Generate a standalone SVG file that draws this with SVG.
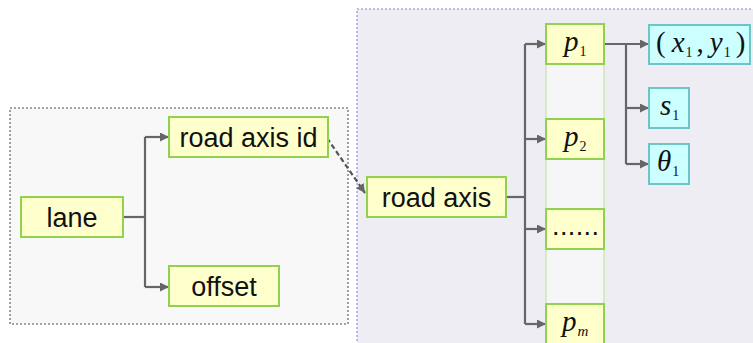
<svg xmlns="http://www.w3.org/2000/svg" width="753" height="343" viewBox="0 0 753 343">
  <defs>
    <marker id="arr" viewBox="0 0 10 10" refX="10" refY="5" markerWidth="9" markerHeight="9" markerUnits="userSpaceOnUse" orient="auto">
      <path d="M0,0 L10,5 L0,10 z" fill="#666"/>
    </marker>
    <style>
      .panelL { fill: #f8f8f8; stroke: #888; stroke-width: 1.6; stroke-dasharray: 2 2; }
      .panelR { fill: #eeedf4; stroke: #a9a9dc; stroke-width: 1.6; stroke-dasharray: 2 2; }
      .col { fill: #f6f6f9; stroke: #c6e4a4; stroke-width: 1.2; }
      .yel { fill: #ffffcc; stroke: #92d050; stroke-width: 2; }
      .cyan { fill: #ccffff; stroke: #6fc5c5; stroke-width: 2; }
      .lbl { font-family: "Liberation Sans", Arial, sans-serif; font-size: 27px; fill: #111; text-anchor: middle; }
      .math { font-family: "Liberation Serif", "Times New Roman", serif; font-size: 29px; fill: #111; font-style: italic; }
      .sub { font-family: "Liberation Serif", "Times New Roman", serif; font-size: 14px; font-style: normal; }
      .subi { font-family: "Liberation Serif", "Times New Roman", serif; font-size: 15px; font-style: italic; }
      .up { font-style: normal; }
      .link { fill: none; stroke: #666; stroke-width: 2.2; }
      .ref { fill: none; stroke: #555; stroke-width: 2.2; stroke-dasharray: 5 3; }
    </style>
  </defs>

  <rect width="753" height="343" fill="#ffffff"/>

  <!-- panels -->
  <rect class="panelL" x="10" y="108" width="338" height="216"/>
  <rect class="panelR" x="357" y="9" width="400" height="340"/>
  <rect class="col" x="546" y="44" width="58" height="290"/>

  <!-- connectors -->
  <g id="connectors">
    <path class="link" d="M123,217 H145"/>
    <path class="link" d="M145,137 V287"/>
    <path class="link" marker-end="url(#arr)" d="M145,137 H169"/>
    <path class="link" marker-end="url(#arr)" d="M145,287 H169"/>

    <path class="ref" marker-end="url(#arr)" d="M327,138 L365,193"/>

    <path class="link" d="M506,197 H525"/>
    <path class="link" d="M525,44 V324"/>
    <path class="link" marker-end="url(#arr)" d="M525,44 H546"/>
    <path class="link" marker-end="url(#arr)" d="M525,139 H546"/>
    <path class="link" marker-end="url(#arr)" d="M525,229 H546"/>
    <path class="link" marker-end="url(#arr)" d="M525,324 H546"/>

    <path class="link" marker-end="url(#arr)" d="M604,44 H649"/>
    <path class="link" d="M626,44 V164"/>
    <path class="link" marker-end="url(#arr)" d="M626,108 H649"/>
    <path class="link" marker-end="url(#arr)" d="M626,164 H649"/>
  </g>

  <!-- nodes -->
  <g id="lane">
    <rect class="yel" x="21" y="197" width="102" height="40"/>
    <text class="lbl" x="72" y="227">lane</text>
  </g>
  <g id="road-axis-id">
    <rect class="yel" x="169" y="117" width="159" height="40"/>
    <text class="lbl" x="248.5" y="147">road axis id</text>
  </g>
  <g id="offset">
    <rect class="yel" x="169" y="266" width="110" height="40"/>
    <text class="lbl" x="224" y="296">offset</text>
  </g>
  <g id="road-axis">
    <rect class="yel" x="367" y="177" width="139" height="40"/>
    <text class="lbl" x="436.5" y="207">road axis</text>
  </g>

  <g id="p1">
    <rect class="yel" x="546" y="24" width="58" height="40"/>
    <text class="math" x="564" y="51">p<tspan class="sub" dx="1" dy="5">1</tspan></text>
  </g>
  <g id="p2">
    <rect class="yel" x="546" y="119" width="58" height="40"/>
    <text class="math" x="564" y="146">p<tspan class="sub" dx="1" dy="5">2</tspan></text>
  </g>
  <g id="pdots">
    <rect class="yel" x="546" y="209" width="58" height="40"/>
    <text class="lbl" x="575.5" y="235" font-size="22" textLength="47" lengthAdjust="spacing">......</text>
  </g>
  <g id="pm">
    <rect class="yel" x="546" y="304" width="58" height="42"/>
    <text class="math" x="562" y="331">p<tspan class="subi" dx="1" dy="5">m</tspan></text>
  </g>

  <g id="xy1">
    <rect class="cyan" x="649" y="25" width="101" height="39"/>
    <text class="math" x="656" y="52"><tspan class="up">(</tspan><tspan dx="6">x</tspan><tspan class="sub" dx="1" dy="5">1</tspan><tspan class="up" dx="4" dy="-5">,</tspan><tspan dx="6">y</tspan><tspan class="sub" dx="1" dy="5">1</tspan><tspan class="up" dx="5" dy="-5">)</tspan></text>
  </g>
  <g id="s1">
    <rect class="cyan" x="649" y="88" width="40" height="40"/>
    <text class="math" x="660" y="115">s<tspan class="sub" dx="1" dy="5">1</tspan></text>
  </g>
  <g id="theta1">
    <rect class="cyan" x="649" y="144" width="40" height="40"/>
    <text class="math" x="657" y="171">θ<tspan class="sub" dx="1" dy="5">1</tspan></text>
  </g>
</svg>
